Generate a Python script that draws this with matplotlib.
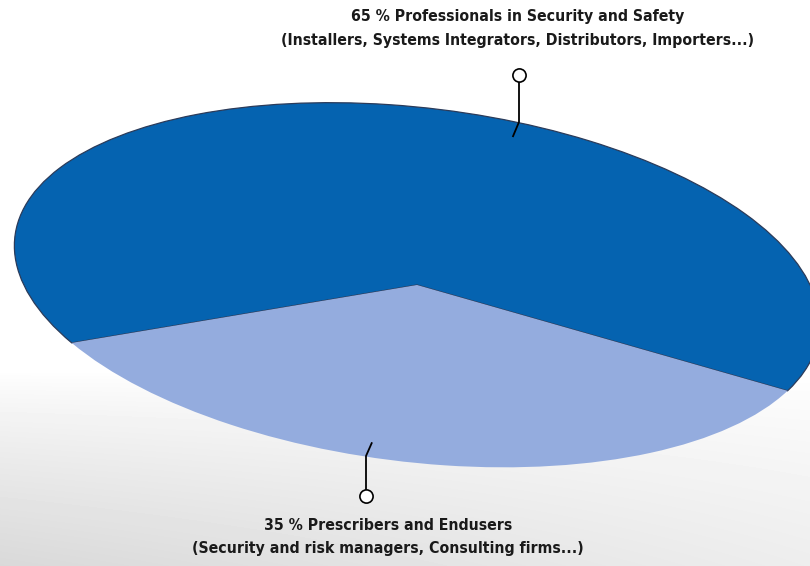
import matplotlib.pyplot as plt
import matplotlib.transforms as mtransforms
import numpy as np

# data
shares = [65, 35]
titles = ["65 % Professionals in Security and Safety",
          "35 % Prescribers and Endusers"]
details = ["(Installers, Systems Integrators, Distributors, Importers...)",
           "(Security and risk managers, Consulting firms...)"]
colors = ["#0563b0", "#94acde"]

FONT = dict(family="DejaVu Sans", fontstretch="condensed", fontweight="bold",
            color="#1a1a1a", ha="center", va="center")


def main():
    fig = plt.figure(figsize=(8.1, 5.66), dpi=100)
    ax = fig.add_axes([0, 0, 1, 1])

    # soft grey floor shading at the bottom
    yy, xx = np.mgrid[0:566, 0:810]
    t = np.clip((yy - 370) / 196.0, 0, 1) ** 0.8
    bg = 1 - t * (0.15 - 0.08 * xx / 810.0)
    ax.imshow(bg, cmap="gray", vmin=0, vmax=1, extent=(0, 810, 566, 0),
              zorder=0, interpolation="bilinear")

    wedges, _ = ax.pie(shares, colors=colors, startangle=-20,
                       wedgeprops=dict(linewidth=0.9))
    # tilt the pie into a flat, rotated ellipse (pixel coords, y down)
    tilt = (mtransforms.Affine2D().scale(405, 177).rotate_deg(-6.9)
            .scale(1, -1).translate(417, 285))
    for w, ec in zip(wedges, ["#2b3b5a", "none"]):
        w.set_transform(tilt + ax.transData)
        w.set_edgecolor(ec)
        w.set_zorder(2)

    # leader lines with small circle ends
    anchors = [tilt.transform((0.92 * np.cos(np.radians(a)),
                               0.92 * np.sin(np.radians(a))))
               for a in (78, 266)]
    ends = [(519, 75), (366, 496)]
    elbows = [(519, 122), (366, 456)]
    for (ax_, ay), (ex, ey), (cx, cy) in zip(anchors, elbows, ends):
        ax.plot([ax_, ex, cx], [ay, ey, cy], color="black", lw=1.3, zorder=3)
        ax.plot(cx, cy, "o", ms=9.5, mfc="white", mec="black", mew=1.2,
                zorder=4)

    ax.text(518, 17, titles[0], fontsize=11.3, **FONT)
    ax.text(518, 40, details[0], fontsize=11.3, **FONT)
    ax.text(388, 526, titles[1], fontsize=11.3, **FONT)
    ax.text(388, 549, details[1], fontsize=11.3, **FONT)

    ax.set_xlim(0, 810)
    ax.set_ylim(566, 0)
    ax.set_aspect("auto")
    ax.axis("off")

    fig.savefig("out.png", dpi=100)


if __name__ == "__main__":
    main()
